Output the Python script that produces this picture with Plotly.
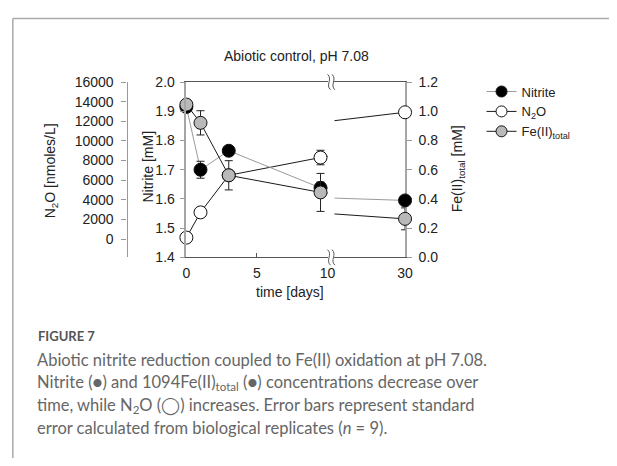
import plotly.graph_objects as go

# ---------------- data ----------------
days = [0, 1, 3, 9.5, 30]
nitrite = [1.915, 1.700, 1.765, 1.638, 1.595]          # mM
nitrite_err = [0.005, 0.029, 0.010, 0.020, 0.012]
n2o = [150, 2720, 6500, 8310, 12920]                  # nmoles/L
n2o_err = [0, 100, 300, 740, 100]
fe = [1.046, 0.921, 0.562, 0.445, 0.264]              # mM
fe_err = [0.020, 0.083, 0.100, 0.130, 0.075]

x_ticks_left = [0, 5, 10]
x_ticks_right = [30]
break_at = 10

W, H = 617, 466
def px(x):
    return x / W
def py(y):
    return 1 - y / H

AX_FONT = dict(family="Liberation Sans, Arial", size=14, color="#222")

fig = go.Figure()

left_idx = [i for i, d in enumerate(days) if d <= break_at]
right_idx = [i for i, d in enumerate(days) if d > break_at]

series = [
    # name, values, errors, yaxis, line color, marker fill, legend rank
    ("N<sub>2</sub>O", n2o, n2o_err, "y", "#1a1a1a", "#ffffff", 2),
    ("Nitrite", nitrite, nitrite_err, "y2", "#9a9a9a", "#000000", 1),
    ("Fe(II)<sub>total</sub>", fe, fe_err, "y3", "#1a1a1a", "#b9b9b9", 3),
]

for name, vals, errs, yax, lcol, mfill, rank in series:
    for xa in ("x", "x2"):
        fig.add_trace(go.Scatter(x=days, y=vals, mode="lines", xaxis=xa, yaxis=yax,
                                 line=dict(color=lcol, width=1), showlegend=False,
                                 hoverinfo="skip"))
    for xa, idx in (("x", left_idx), ("x2", right_idx)):
        fig.add_trace(go.Scatter(
            x=[days[i] for i in idx], y=[vals[i] for i in idx], mode="markers",
            xaxis=xa, yaxis=yax, cliponaxis=False, showlegend=False,
            marker=dict(size=13, color=mfill, line=dict(color="#111", width=1)),
            error_y=dict(type="data", array=[errs[i] for i in idx], color="#222",
                         thickness=1, width=4)))
    fig.add_trace(go.Scatter(x=[None], y=[None], mode="lines+markers", name=name,
                             xaxis="x", yaxis=yax, legendrank=rank,
                             line=dict(color=lcol, width=1),
                             marker=dict(size=11, color=mfill, line=dict(color="#111", width=1))))

ydom = [py(258.3), py(76.7)]

fig.update_layout(
    width=W, height=H, autosize=False,
    margin=dict(l=0, r=0, t=0, b=0),
    paper_bgcolor="white", plot_bgcolor="rgba(0,0,0,0)",
    font=AX_FONT,
    xaxis=dict(domain=[px(186), px(330)], range=[0, break_at], anchor="y",
               tickvals=x_ticks_left, ticks="inside", ticklen=4, tickcolor="#555",
               showline=True, mirror=True, linecolor="#555", linewidth=1,
               showgrid=False, zeroline=False, tickfont=AX_FONT, ticklabelstandoff=3),
    xaxis2=dict(domain=[px(337), px(409)], range=[26.2, 30], anchor="y",
                tickvals=x_ticks_right, ticks="inside", ticklen=4, tickcolor="#555",
                showline=True, mirror=True, linecolor="#555", linewidth=1,
                showgrid=False, zeroline=False, tickfont=AX_FONT, ticklabelstandoff=3),
    yaxis=dict(domain=ydom, range=[-1870, 16000], anchor="free", position=px(125),
               side="left", tickvals=list(range(0, 16001, 2000)), tickformat="d",
               ticks="outside", ticklen=5, tickcolor="#999",
               showline=True, linecolor="#999", linewidth=1.2,
               showgrid=False, zeroline=False, tickfont=AX_FONT, ticklabelstandoff=5),
    yaxis2=dict(domain=ydom, range=[1.4, 2.0], overlaying="y", anchor="x", side="left",
                dtick=0.1, tickformat=".1f", ticks="outside", ticklen=5, tickcolor="#999",
                showline=True, linecolor="#a5a5a5", linewidth=1.5,
                showgrid=False, zeroline=False, tickfont=AX_FONT, ticklabelstandoff=2),
    yaxis3=dict(domain=ydom, range=[0, 1.2], overlaying="y", anchor="x2", side="right",
                dtick=0.2, tickformat=".1f", ticks="outside", ticklen=5, tickcolor="#999",
                showline=True, linecolor="#a5a5a5", linewidth=1.5,
                showgrid=False, zeroline=False, tickfont=AX_FONT, ticklabelstandoff=4),
    legend=dict(x=px(487), y=py(71), xanchor="left", yanchor="top",
                font=dict(family="Liberation Sans, Arial", size=13, color="#222"),
                bgcolor="rgba(0,0,0,0)", itemwidth=30, tracegroupgap=0),
    showlegend=True,
)

shapes = []
# card frame
shapes.append(dict(type="line", xref="paper", yref="paper", x0=px(9), x1=1, y0=py(11), y1=py(11),
                   line=dict(color="#aaaaaa", width=1.5)))
shapes.append(dict(type="line", xref="paper", yref="paper", x0=px(9), x1=px(9), y0=py(11), y1=0,
                   line=dict(color="#aaaaaa", width=1.5)))
# axis break marks on top and bottom axes
for yb in (76.7, 258.3):
    for xb in (331.5, 336.0):
        path = "M {:.5f},{:.5f} C {:.5f},{:.5f} {:.5f},{:.5f} {:.5f},{:.5f}".format(
            px(xb - 1.5), py(yb - 8), px(xb + 4), py(yb - 3), px(xb - 4), py(yb + 3),
            px(xb + 1.5), py(yb + 8))
        shapes.append(dict(type="path", xref="paper", yref="paper", path=path,
                           line=dict(color="#555", width=1)))
fig.update_layout(shapes=shapes)

ann = []
ann.append(dict(text="Abiotic control, pH 7.08", x=px(298), y=py(50), xref="paper", yref="paper",
                showarrow=False, font=AX_FONT, xanchor="center", yanchor="middle"))
ann.append(dict(text="time [days]", x=px(292), y=py(294), xref="paper", yref="paper",
                showarrow=False, font=AX_FONT, xanchor="center", yanchor="middle"))
ann.append(dict(text="N<sub>2</sub>O [nmoles/L]", x=px(48), y=py(169), xref="paper", yref="paper",
                showarrow=False, font=AX_FONT, textangle=-90, xanchor="center", yanchor="middle"))
ann.append(dict(text="Nitrite [mM]", x=px(147), y=py(164), xref="paper", yref="paper",
                showarrow=False, font=AX_FONT, textangle=-90, xanchor="center", yanchor="middle"))
ann.append(dict(text="Fe(II)<sub>total</sub> [mM]", x=px(463), y=py(166), xref="paper", yref="paper",
                showarrow=False, font=AX_FONT, textangle=-90, xanchor="center", yanchor="middle"))

CAP = dict(family="Lato, Open Sans", size=16.5, color="#666666")
ann.append(dict(text="<b>FIGURE 7</b>", x=px(33), y=py(340), xref="paper", yref="paper",
                showarrow=False, font=dict(family="Lato, Open Sans", size=13, color="#555555"),
                xanchor="left", yanchor="middle"))
caption_lines = [
    "Abiotic nitrite reduction coupled to Fe(II) oxidation at pH 7.08.",
    "Nitrite (●) and 1094Fe(II)<sub>total</sub> (●) concentrations decrease over",
    "time, while N<sub>2</sub>O (◯) increases. Error bars represent standard",
    "error calculated from biological replicates (<i>n</i> = 9).",
]
for i, line in enumerate(caption_lines):
    ann.append(dict(text=line, x=px(32), y=py(365 + i * 23.2), xref="paper", yref="paper",
                    showarrow=False, font=CAP, xanchor="left", yanchor="middle"))
fig.update_layout(annotations=ann)

fig.write_html("out.html")
